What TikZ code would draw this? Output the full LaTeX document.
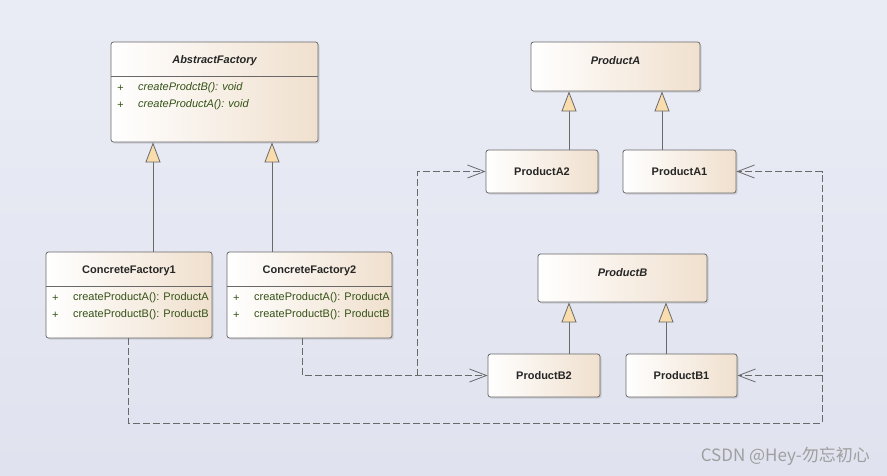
\documentclass[tikz,border=0pt]{standalone}
\usepackage{fontspec}
\setmainfont{Liberation Sans}
\newfontfamily\cjk{Noto Sans CJK SC}
\usetikzlibrary{arrows.meta,shadows}

\definecolor{bgtop}{RGB}{234,236,245}
\definecolor{bgbot}{RGB}{224,227,239}
\definecolor{boxright}{RGB}{240,224,206}
\definecolor{boxline}{RGB}{105,105,105}
\definecolor{optext}{RGB}{52,82,22}
\definecolor{tipfill}{RGB}{250,221,172}
\definecolor{linkgray}{RGB}{105,105,105}

\tikzset{
  cls/.style={draw=boxline,line width=.8pt,rounded corners=2.5pt,left color=white,right color=boxright,
    drop shadow={shadow xshift=1.5pt,shadow yshift=-1.5pt,opacity=.25,fill=gray},
    inner sep=0pt,font=\bfseries\fontsize{11}{13}\selectfont,text=black!85},
  ttl/.style={inner sep=0pt,font=\bfseries\fontsize{11}{13}\selectfont,text=black!85},
  op/.style={inner sep=0pt,anchor=west,font=\fontsize{11}{13}\selectfont,text=optext},
  gen/.style={draw=linkgray,line width=.8pt,-{Triangle[length=20pt,width=15pt,fill=tipfill]}},
  dep/.style={draw=linkgray,line width=.8pt,dash pattern=on 7pt off 3pt,-{Straight Barb[length=17pt,width=13pt]}},
}

\begin{document}
\begin{tikzpicture}[x=1pt,y=-1pt]
    \useasboundingbox (0,0) rectangle (887,475);
    \shade[top color=bgtop,bottom color=bgbot] (0,0) rectangle (887,475);
    % factories
    \node[cls,minimum width=207pt,minimum height=100pt] (af) at (214.5,92) {};
    \node[ttl] (aft) at (214.5,61) {\itshape AbstractFactory};
    \draw[boxline,line width=.8pt] (af.west |- 0,76) -- (af.east |- 0,76);
    \node[op] (afp1) at (117,88) {\itshape +};
    \node[op] (afm1) at (138,88) {\itshape createProdctB(): void};
    \node[op] (afp2) at (117,105) {\itshape +};
    \node[op] (afm2) at (138,105) {\itshape createProductA(): void};
    %
    \node[cls,minimum width=166pt,minimum height=86pt] (cf1) at (129,295) {};
    \node[ttl] (cf1t) at (129,271) {ConcreteFactory1};
    \draw[boxline,line width=.8pt] (cf1.west |- 0,286) -- (cf1.east |- 0,286);
    \node[op] (cf1p1) at (52,298) {+};
    \node[op] (cf1m1) at (73,298) {createProductA(): ProductA};
    \node[op] (cf1p2) at (52,315) {+};
    \node[op] (cf1m2) at (73,315) {createProductB(): ProductB};
    %
    \node[cls,minimum width=165pt,minimum height=86pt] (cf2) at (309.5,295) {};
    \node[ttl] (cf2t) at (309.5,271) {ConcreteFactory2};
    \draw[boxline,line width=.8pt] (cf2.west |- 0,286) -- (cf2.east |- 0,286);
    \node[op] (cf2p1) at (233,298) {+};
    \node[op] (cf2m1) at (254,298) {createProductA(): ProductA};
    \node[op] (cf2p2) at (233,315) {+};
    \node[op] (cf2m2) at (254,315) {createProductB(): ProductB};
    % products
    \node[cls,minimum width=169pt,minimum height=49pt] (pa) at (615.5,66.5) {};
    \node[ttl] (pat) at (615.5,61) {\itshape ProductA};
    \node[cls,minimum width=112pt,minimum height=43pt] (a2) at (542,171.5) {ProductA2};
    \node[cls,minimum width=113pt,minimum height=43pt] (a1) at (679.5,171.5) {ProductA1};
    \node[cls,minimum width=169pt,minimum height=48pt] (pb) at (622.5,278) {};
    \node[ttl] (pbt) at (622.5,273) {\itshape ProductB};
    \node[cls,minimum width=112pt,minimum height=43pt] (b2) at (544,375.5) {ProductB2};
    \node[cls,minimum width=111pt,minimum height=43pt] (b1) at (681.5,375.5) {ProductB1};
    % generalization
    \draw[gen] ([xshift=24pt]cf1.north) -- ([xshift=24pt]cf1.north |- af.south);
    \draw[gen] ([xshift=-37.5pt]cf2.north) -- ([xshift=-37.5pt]cf2.north |- af.south);
    \draw[gen] ([xshift=27pt]a2.north) -- ([xshift=27pt]a2.north |- pa.south);
    \draw[gen] ([xshift=-17.5pt]a1.north) -- ([xshift=-17.5pt]a1.north |- pa.south);
    \draw[gen] ([xshift=25pt]b2.north) -- ([xshift=25pt]b2.north |- pb.south);
    \draw[gen] ([xshift=-15.5pt]b1.north) -- ([xshift=-15.5pt]b1.north |- pb.south);
    % dependencies
    \coordinate (j2) at (417,375.5);
    \coordinate (c1) at (822,423);
    \draw[dep] ([xshift=-7.5pt]cf2.south) |- (b2.west);
    \draw[dep] (j2) |- (a2.west);
    \draw[dep] ([xshift=-1pt]cf1.south) |- (c1) |- (a1.east);
    \draw[dep] (c1 |- b1.east) -- (b1.east);
    %
    \node[anchor=east,inner sep=0pt,font=\cjk\fontsize{17}{19}\selectfont,text=gray!75] (mark) at (870,456) {CSDN @Hey-勿忘初心};
\end{tikzpicture}
\end{document}
